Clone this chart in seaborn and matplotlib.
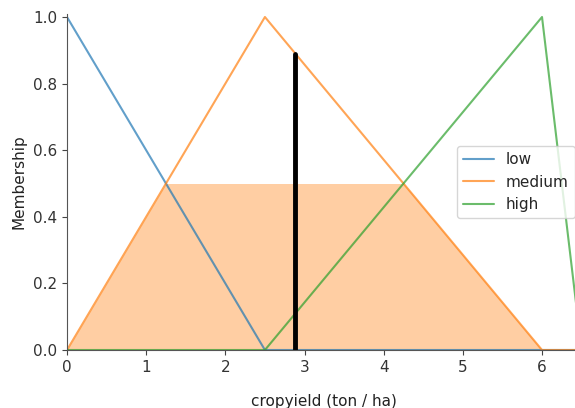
import matplotlib
matplotlib.use("Agg")
import matplotlib.pyplot as plt
import seaborn as sns
import pandas as pd
import numpy as np

# Membership functions (vertices)
low_x = [0.0, 2.5, 6.5]
low_y = [1.0, 0.0, 0.0]
medium_x = [0.0, 2.5, 6.0, 6.5]
medium_y = [0.0, 1.0, 0.0, 0.0]
high_x = [0.0, 2.5, 6.0, 6.5]
high_y = [0.0, 0.0, 1.0, 0.0]

# Activated (clipped) medium region
fill_x = [0.0, 1.25, 4.25, 6.0]
fill_y = [0.0, 0.5, 0.5, 0.0]

# Crisp output
crisp_x = 2.88
crisp_y = 0.89

x_ticks = [0, 1, 2, 3, 4, 5, 6]
y_ticks = [0.0, 0.2, 0.4, 0.6, 0.8, 1.0]

sns.set_style("ticks")
plt.rcParams['font.family'] = ['DejaVu Sans']

fig = plt.figure(figsize=(5.75, 4.08), dpi=100)
ax = fig.add_axes([67/575, 58/408, 514.6/575, 333/408 * 1.01])

colors = {"low": "#1f77b4", "medium": "#ff7f0e", "high": "#2ca02c"}
frames = []
for name, xs, ys in [("low", low_x, low_y), ("medium", medium_x, medium_y), ("high", high_x, high_y)]:
    frames.append(pd.DataFrame({"x": xs, "y": ys, "term": name}))
df = pd.concat(frames, ignore_index=True)

sns.lineplot(data=df, x="x", y="y", hue="term", palette=colors, sort=False,
             estimator=None, ax=ax, linewidth=1.5, alpha=0.7)

ax.fill_between(fill_x, 0, fill_y, facecolor=colors["medium"], alpha=0.38, linewidth=0)
ax.plot([crisp_x, crisp_x], [0, crisp_y], color="black", linewidth=3.5)

ax.set_xlim(0, 6.5)
ax.set_ylim(0, 1.01)
ax.set_xticks(x_ticks)
ax.set_yticks(y_ticks)
ax.set_yticklabels([f"{v:.1f}" for v in y_ticks])
ax.tick_params(labelsize=11, colors="#444444", labelcolor="#333333")
for s in ["top", "right"]:
    ax.spines[s].set_visible(False)
for s in ["left", "bottom"]:
    ax.spines[s].set_color("#555555")

ax.set_xlabel("cropyield (ton / ha)", fontsize=11, color="#222222", labelpad=14)
ax.set_ylabel("Membership", fontsize=11, color="#222222", labelpad=5)

leg = ax.legend(loc="upper left", bbox_to_anchor=(0.758, 0.607), fontsize=11,
                frameon=True, handlelength=2.0, borderaxespad=0)

fig.savefig("out.png", dpi=100)
